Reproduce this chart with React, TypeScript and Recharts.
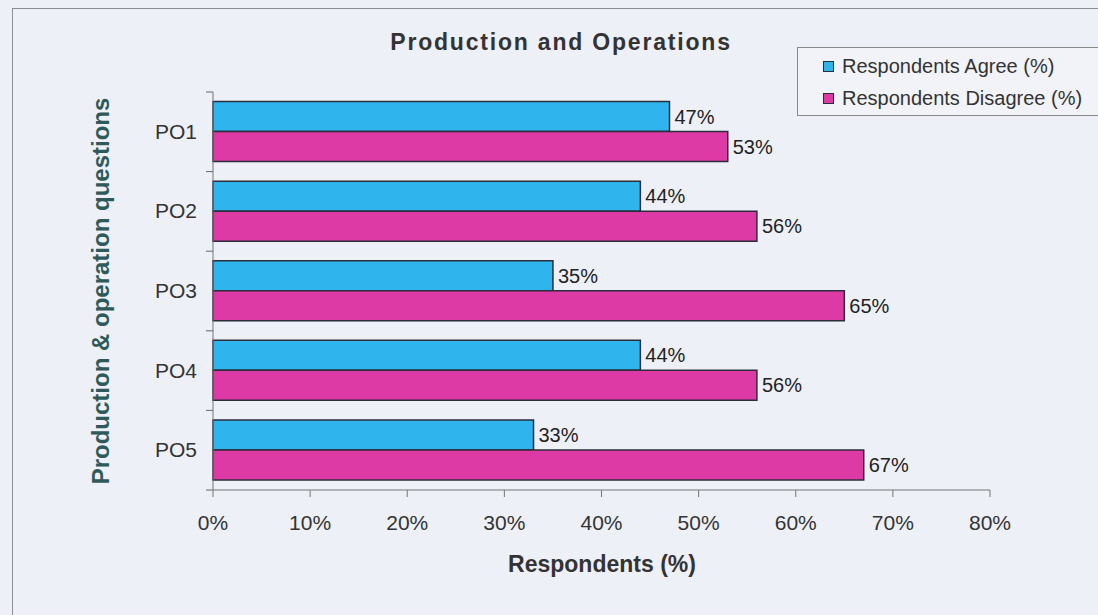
import React from "react";
import { Bar, BarChart, LabelList, XAxis, YAxis } from "recharts";

const categories = ["PO1", "PO2", "PO3", "PO4", "PO5"];
const agree = [47, 44, 35, 44, 33];
const disagree = [53, 56, 65, 56, 67];
const xTicks = [0, 10, 20, 30, 40, 50, 60, 70, 80];

const COLOR_AGREE = "#2fb4ee";
const COLOR_DISAGREE = "#de3aa6";
const OUTLINE = "#2b2d3a";
const FONT = "'Liberation Sans', Arial, sans-serif";

const W = 1098;
const H = 615;
const PLOT_LEFT = 213;
const PLOT_TOP = 92;
const PLOT_RIGHT = 990;
const PLOT_BOTTOM = 490;
const X_AXIS_H = 75;

const data = categories.map((name, i) => ({ name, agree: agree[i], disagree: disagree[i] }));

const band = (PLOT_BOTTOM - PLOT_TOP) / categories.length;

function CategoryTick(props: any) {
  const { y, payload, index } = props;
  return (
    <g>
      <line x1={PLOT_LEFT - 7} x2={PLOT_LEFT} y1={y - band / 2} y2={y - band / 2} stroke="#666" />
      {index === categories.length - 1 && (
        <line x1={PLOT_LEFT - 7} x2={PLOT_LEFT} y1={y + band / 2} y2={y + band / 2} stroke="#666" />
      )}
      <text x={197} y={y} dy={7} textAnchor="end" fontFamily={FONT} fontSize={21} fill="#333">
        {payload.value}
      </text>
    </g>
  );
}

// légende : boîte en haut à droite, coupée par le bord droit
function LegendBox() {
  const items = [
    { label: "Respondents Agree (%)", color: COLOR_AGREE },
    { label: "Respondents Disagree (%)", color: COLOR_DISAGREE },
  ];
  return (
    <div
      style={{
        position: "absolute",
        left: 797,
        top: 47,
        width: 320,
        height: 69,
        border: "1px solid #888",
        background: "#f2f3f8",
        boxSizing: "border-box",
        padding: "2px 0 0 25px",
        fontFamily: FONT,
        fontSize: 20,
        color: "#333",
      }}
    >
      {items.map((it) => (
        <div key={it.label} style={{ display: "flex", alignItems: "center", height: 32 }}>
          <span
            style={{
              width: 9,
              height: 9,
              background: it.color,
              border: `1.5px solid ${OUTLINE}`,
              display: "inline-block",
              marginRight: 8,
            }}
          />
          <span>{it.label}</span>
        </div>
      ))}
    </div>
  );
}

export default function App() {
  return (
    <div
      style={{
        position: "absolute",
        left: 0,
        top: 0,
        width: W,
        height: H,
        overflow: "hidden",
        background: "#eef0f7",
      }}
    >
      {/* cadre extérieur */}
      <div
        style={{
          position: "absolute",
          left: 12,
          top: 8,
          width: W + 20,
          height: H + 20,
          border: "1px solid #8a8d96",
        }}
      />
      <div
        style={{
          position: "absolute",
          left: 0,
          width: 1122,
          top: 29,
          textAlign: "center",
          fontFamily: FONT,
          fontWeight: 700,
          fontSize: 23,
          letterSpacing: 1.8,
          color: "#333",
        }}
      >
        Production and Operations
      </div>
      <div
        style={{
          position: "absolute",
          left: 101,
          top: 291,
          transform: "translate(-50%, -50%) rotate(-90deg)",
          whiteSpace: "nowrap",
          fontFamily: FONT,
          fontWeight: 700,
          fontSize: 24,
          color: "#2e5a5c",
        }}
      >
        Production &amp; operation questions
      </div>
      <div
        style={{
          position: "absolute",
          left: 0,
          width: 1204,
          top: 551,
          textAlign: "center",
          fontFamily: FONT,
          fontWeight: 700,
          fontSize: 23,
          color: "#333",
        }}
      >
        Respondents (%)
      </div>
      <LegendBox />
      <BarChart
        width={W}
        height={H}
        data={data}
        layout="vertical"
        margin={{ top: PLOT_TOP, right: W - PLOT_RIGHT, left: 0, bottom: H - PLOT_BOTTOM - X_AXIS_H }}
        barGap={0}
        barCategoryGap="12%"
      >
        <XAxis
          type="number"
          domain={[0, 80]}
          ticks={xTicks}
          tickFormatter={(v: number) => `${v}%`}
          height={X_AXIS_H}
          stroke="#777"
          tickSize={7}
          tickMargin={18}
          tick={{ fontFamily: FONT, fontSize: 21, fill: "#333" }}
          interval={0}
        />
        <YAxis
          type="category"
          dataKey="name"
          width={PLOT_LEFT}
          stroke="#777"
          tickLine={false}
          tick={<CategoryTick />}
          interval={0}
        />
        <Bar dataKey="agree" fill={COLOR_AGREE} stroke={OUTLINE} strokeWidth={1.5} isAnimationActive={false}>
          <LabelList
            dataKey="agree"
            position="right"
            offset={5}
            formatter={(v: any) => `${v}%`}
            style={{ fontFamily: FONT, fontSize: 20, fill: "#222" }}
          />
        </Bar>
        <Bar dataKey="disagree" fill={COLOR_DISAGREE} stroke={OUTLINE} strokeWidth={1.5} isAnimationActive={false}>
          <LabelList
            dataKey="disagree"
            position="right"
            offset={5}
            formatter={(v: any) => `${v}%`}
            style={{ fontFamily: FONT, fontSize: 20, fill: "#222" }}
          />
        </Bar>
      </BarChart>
    </div>
  );
}
